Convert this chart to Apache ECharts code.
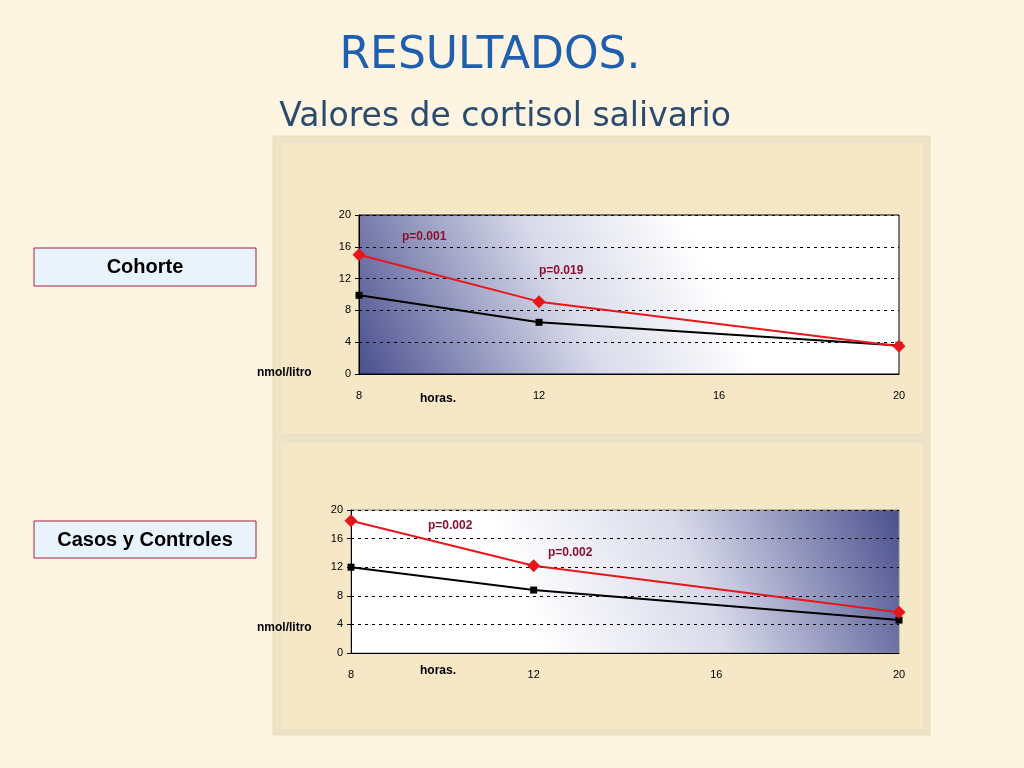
<!DOCTYPE html><html><head><meta charset="utf-8">
<script src="https://cdn.jsdelivr.net/npm/echarts@6/dist/echarts.min.js"></script>
<style>html,body{margin:0;padding:0;background:#fdf5e1}#c{width:1024px;height:768px}</style></head><body><div id="c"></div>
<script>
const hours=[8,12,20];
const cohorteRed=[15,9.1,3.5];
const cohorteBlack=[9.9,6.5,3.6];
const casosRed=[18.5,12.2,5.7];
const casosBlack=[12.0,8.8,4.6];
const chart=echarts.init(document.getElementById('c'));
const pair=(x,y)=>x.map((v,i)=>[v,y[i]]);
const axisLab={fontFamily:'Liberation Sans',fontSize:11,color:'#000'};
function xA(i){return{type:'value',gridIndex:i,min:8,max:20,interval:4,axisLine:{show:true,lineStyle:{color:'#000'}},axisTick:{show:false},splitLine:{show:false},axisLabel:Object.assign({margin:16},axisLab)};}
function yA(i){return{type:'value',gridIndex:i,min:0,max:20,interval:4,axisLine:{show:true,lineStyle:{color:'#000'}},axisTick:{show:true,length:4,lineStyle:{color:'#000'}},splitLine:{show:true,lineStyle:{color:'#000',type:[3,4]}},axisLabel:axisLab};}
function ser(i,d,color,sym,size){return{type:'line',xAxisIndex:i,yAxisIndex:i,data:d,symbol:sym,symbolSize:size,lineStyle:{color:color,width:2},itemStyle:{color:color},z:5,animation:false};}
const txt=(x,y,t,st)=>({type:'text',z:10,style:Object.assign({text:t,x:x,y:y,fontFamily:'Liberation Sans',fontSize:12,fontWeight:'bold',fill:'#000'},st||{})});
chart.setOption({
 animation:false,
 graphic:[
  {type:'group',z:-10,silent:true,children:[
  {type:'rect',z:-10,shape:{x:273,y:136,width:657,height:599},style:{fill:'#efe3c3',stroke:'#e6dcc0'}},
  {type:'rect',z:-9,shape:{x:280,y:142,width:644,height:293},style:{fill:'#f6e7c6',stroke:'#e9e2cc',lineWidth:2}},
  {type:'rect',z:-9,shape:{x:280,y:442,width:644,height:288},style:{fill:'#f6e7c6',stroke:'#e9e2cc',lineWidth:2}}]},
  {type:'rect',shape:{x:34,y:248,width:222,height:38},style:{fill:'#e8f3fb',stroke:'#a02040',lineWidth:1}},
  {type:'rect',shape:{x:34,y:521,width:222,height:37},style:{fill:'#e8f3fb',stroke:'#a02040',lineWidth:1}},
  {type:'text',z:10,style:{text:'Cohorte',x:145,y:267,textAlign:'center',textVerticalAlign:'middle',fontFamily:'Liberation Sans',fontSize:20,fontWeight:'bold',fill:'#000'}},
  {type:'text',z:10,style:{text:'Casos y Controles',x:145,y:540,textAlign:'center',textVerticalAlign:'middle',fontFamily:'Liberation Sans',fontSize:20,fontWeight:'bold',fill:'#000'}},
  {type:'text',style:{text:'RESULTADOS.',x:490,y:57,textAlign:'center',textVerticalAlign:'middle',fontFamily:'DejaVu Sans',fontSize:44,fill:'#1f5fae'}},
  {type:'text',style:{text:'Valores de cortisol salivario',x:505,y:117,textAlign:'center',textVerticalAlign:'middle',fontFamily:'DejaVu Sans',fontSize:33,fill:'#2c4a6e'}},
  txt(257,367,'nmol/litro'),txt(420,393,'horas.'),
  txt(257,622,'nmol/litro'),txt(420,665,'horas.'),
  txt(402,231,'p=0.001',{fill:'#8b1030'}),txt(539,265,'p=0.019',{fill:'#8b1030'}),
  txt(428,520,'p=0.002',{fill:'#8b1030'}),txt(548,547,'p=0.002',{fill:'#8b1030'})
 ],
 grid:[{left:359,top:215,width:540,height:159,show:true,borderColor:'#000',borderWidth:1,
        backgroundColor:{type:'linear',x:0,y:1,x2:0.6,y2:0,colorStops:[{offset:0,color:'#4a4f8e'},{offset:0.6,color:'#d8daea'},{offset:1,color:'#ffffff'}]}},
       {left:351,top:510,width:548,height:143,show:true,borderColor:'#888',borderWidth:1,
        backgroundColor:{type:'linear',x:1,y:0,x2:0.35,y2:1,colorStops:[{offset:0,color:'#4a4f8e'},{offset:0.55,color:'#d8daea'},{offset:1,color:'#ffffff'}]}}],
 xAxis:[xA(0),xA(1)],yAxis:[yA(0),yA(1)],
 series:[ser(0,pair(hours,cohorteBlack),'#000','rect',7),ser(0,pair(hours,cohorteRed),'#e8161b','diamond',13),
         ser(1,pair(hours,casosBlack),'#000','rect',7),ser(1,pair(hours,casosRed),'#e8161b','diamond',13)]
});
</script></body></html>
